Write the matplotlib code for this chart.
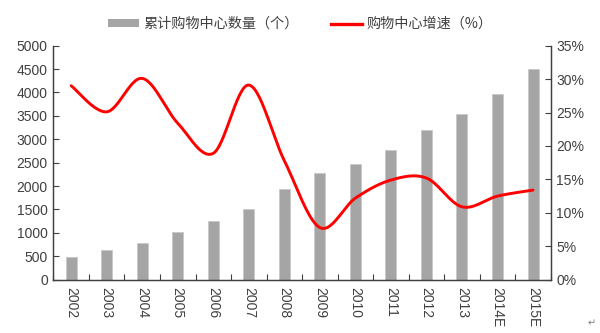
import numpy as np
import matplotlib
matplotlib.use("Agg")
import matplotlib.pyplot as plt
from matplotlib.patches import Patch
from matplotlib.lines import Line2D
from matplotlib.ticker import FixedLocator, PercentFormatter

plt.rcParams['font.family'] = ['Liberation Sans', 'Noto Sans CJK SC', 'DejaVu Sans']

years = ['2002', '2003', '2004', '2005', '2006', '2007', '2008',
         '2009', '2010', '2011', '2012', '2013', '2014E', '2015E']
mall_count = [480, 635, 785, 1025, 1260, 1500, 1935,
              2290, 2470, 2770, 3190, 3535, 3975, 4505]
growth_pct = [29.0, 25.1, 30.1, 23.4, 18.9, 29.1, 17.8,
              7.8, 12.2, 14.9, 15.2, 10.9, 12.5, 13.4]

bar_label = '累计购物中心数量（个）'
line_label = '购物中心增速（%）'

text_color = '#404040'
bar_color = '#A5A5A5'
red = '#FF0000'


def smooth_curve(x, y, steps=30):
    """Cubic Bezier through every point, Catmull-Rom style tangents."""
    x = np.asarray(x, float)
    y = np.asarray(y, float)
    pts = np.column_stack([x, y])
    n = len(pts)
    out = []
    for i in range(n - 1):
        p0 = pts[i - 1] if i > 0 else pts[i]
        p1 = pts[i]
        p2 = pts[i + 1]
        p3 = pts[i + 2] if i + 2 < n else pts[i + 1]
        c1 = p1 + (p2 - p0) / 6.0
        c2 = p2 - (p3 - p1) / 6.0
        t = np.linspace(0, 1, steps, endpoint=(i == n - 2))[:, None]
        seg = ((1 - t) ** 3) * p1 + 3 * ((1 - t) ** 2) * t * c1 \
            + 3 * (1 - t) * t ** 2 * c2 + t ** 3 * p2
        out.append(seg)
    out = np.vstack(out)
    return out[:, 0], out[:, 1]


fig = plt.figure(figsize=(6.0, 3.33), dpi=100)
ax = fig.add_axes([0.089, 0.160, 0.829, 0.703])
ax2 = ax.twinx()

xpos = np.arange(len(years))
ax.bar(xpos, mall_count, width=0.31, color=bar_color, edgecolor='#C8C8C8',
       linewidth=0.6, zorder=2)

sx, sy = smooth_curve(xpos, growth_pct)
ax2.plot(sx, sy, color=red, linewidth=2.1, solid_capstyle='round', zorder=3)

ax.set_xlim(-0.5, len(years) - 0.5)
ax.set_ylim(0, 5000)
ax.set_yticks(np.arange(0, 5001, 500))
ax2.set_ylim(0, 35)
ax2.set_yticks(np.arange(0, 36, 5))
ax2.yaxis.set_major_formatter(PercentFormatter(decimals=0))

ax.set_xticks(xpos)
ax.set_xticklabels(years, rotation=-90, fontsize=10, color=text_color)
ax.xaxis.set_minor_locator(FixedLocator(np.arange(-0.5, len(years), 1.0)))
ax.tick_params(axis='x', which='major', length=0, pad=5)
ax.tick_params(axis='x', which='minor', direction='in', length=4,
               width=0.8, color='#404040')
ax.tick_params(axis='y', direction='in', length=4, width=0.8,
               color='#404040', labelsize=10, labelcolor=text_color, pad=4)
ax2.tick_params(axis='y', direction='in', length=4, width=0.8,
                color='#404040', labelsize=10, labelcolor=text_color, pad=4)

for a in (ax, ax2):
    a.spines['top'].set_visible(False)
    for s in ('left', 'right', 'bottom'):
        a.spines[s].set_color('#404040')
        a.spines[s].set_linewidth(0.9)
ax.set_zorder(ax2.get_zorder() - 1)
ax.patch.set_visible(True)
ax2.patch.set_visible(False)

handles = [Patch(facecolor=bar_color, edgecolor='none'),
           Line2D([], [], color=red, linewidth=2.4)]
leg = fig.legend(handles, [bar_label, line_label], loc='center',
                 bbox_to_anchor=(0.5, 0.928), ncol=2, frameon=False,
                 handlelength=2.2, handleheight=0.45,
                 handletextpad=0.3, columnspacing=2.3,
                 prop={'family': ['Noto Sans CJK SC', 'DejaVu Sans'], 'size': 10.2})
for t in leg.get_texts():
    t.set_color(text_color)

# paragraph mark in the lower right corner
fig.text(0.992, 0.015, '↵', fontsize=7, color='#808080',
         family='DejaVu Sans', ha='right', va='bottom')

fig.savefig('out.png', dpi=100)
